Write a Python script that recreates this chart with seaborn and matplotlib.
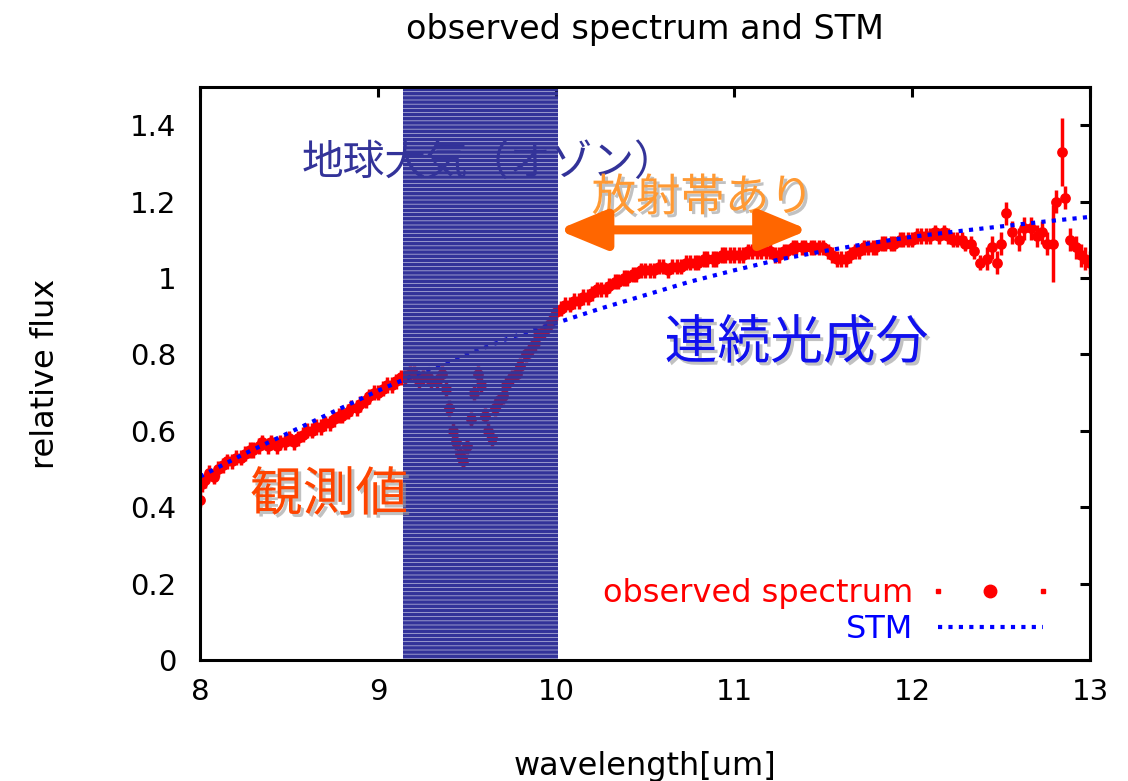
import matplotlib
matplotlib.use("Agg")
import matplotlib.pyplot as plt
import matplotlib.patheffects as pe
from matplotlib.lines import Line2D
from matplotlib.legend_handler import HandlerLine2D, HandlerTuple
import seaborn as sns
import pandas as pd

# ---------------- data ----------------
obs_x = [8.00, 8.01, 8.03, 8.05, 8.08, 8.10, 8.13, 8.15, 8.18, 8.20,
         8.23, 8.25, 8.28, 8.30, 8.33, 8.35, 8.38, 8.40, 8.43, 8.45,
         8.48, 8.50, 8.53, 8.55, 8.58, 8.60, 8.63, 8.65, 8.68, 8.70,
         8.73, 8.75, 8.78, 8.80, 8.83, 8.85, 8.88, 8.90, 8.93, 8.95,
         8.98, 9.00, 9.03, 9.05, 9.08, 9.10, 9.13, 9.15, 9.18, 9.20,
         9.23, 9.25, 9.28, 9.30, 9.33, 9.36, 9.38, 9.40, 9.42, 9.44,
         9.46, 9.48, 9.50, 9.52, 9.54, 9.56, 9.58, 9.60, 9.62, 9.64,
         9.66, 9.68, 9.70, 9.72, 9.75, 9.78, 9.80, 9.83, 9.85, 9.88,
         9.90, 9.93, 9.95, 9.98, 10.00, 10.03, 10.05, 10.08, 10.10, 10.13,
         10.15, 10.18, 10.20, 10.23, 10.25, 10.28, 10.30, 10.33, 10.35, 10.38,
         10.40, 10.43, 10.45, 10.48, 10.50, 10.53, 10.55, 10.58, 10.60, 10.63,
         10.65, 10.68, 10.70, 10.73, 10.75, 10.78, 10.80, 10.83, 10.85, 10.88,
         10.90, 10.93, 10.95, 10.98, 11.00, 11.03, 11.05, 11.08, 11.10, 11.13,
         11.15, 11.18, 11.20, 11.23, 11.25, 11.28, 11.30, 11.33, 11.35, 11.38,
         11.40, 11.43, 11.45, 11.48, 11.50, 11.53, 11.55, 11.58, 11.60, 11.63,
         11.65, 11.68, 11.70, 11.73, 11.75, 11.78, 11.80, 11.83, 11.85, 11.88,
         11.90, 11.93, 11.95, 11.98, 12.00, 12.03, 12.05, 12.08, 12.10, 12.13,
         12.15, 12.18, 12.20, 12.23, 12.25, 12.28, 12.30, 12.33, 12.35, 12.38,
         12.42, 12.45, 12.48, 12.50, 12.53, 12.56, 12.60, 12.63, 12.67, 12.70,
         12.73, 12.76, 12.79, 12.81, 12.84, 12.86, 12.89, 12.92, 12.95, 12.97,
         13.00]
obs_y = [0.42, 0.46, 0.47, 0.49, 0.48, 0.50, 0.51, 0.52, 0.52, 0.53,
         0.53, 0.54, 0.55, 0.55, 0.56, 0.57, 0.56, 0.57, 0.56, 0.57,
         0.57, 0.58, 0.57, 0.58, 0.59, 0.60, 0.60, 0.61, 0.61, 0.62,
         0.62, 0.63, 0.64, 0.64, 0.65, 0.66, 0.66, 0.67, 0.68, 0.69,
         0.70, 0.70, 0.71, 0.72, 0.72, 0.73, 0.74, 0.74, 0.75, 0.75,
         0.73, 0.74, 0.74, 0.73, 0.73, 0.75, 0.71, 0.66, 0.60, 0.57,
         0.54, 0.52, 0.56, 0.63, 0.70, 0.75, 0.72, 0.64, 0.60, 0.58,
         0.66, 0.68, 0.69, 0.72, 0.74, 0.75, 0.77, 0.80, 0.81, 0.83,
         0.85, 0.86, 0.87, 0.89, 0.91, 0.92, 0.93, 0.93, 0.94, 0.94,
         0.95, 0.95, 0.96, 0.97, 0.97, 0.97, 0.98, 0.99, 0.99, 1.00,
         1.00, 1.01, 1.01, 1.02, 1.02, 1.02, 1.02, 1.03, 1.03, 1.02,
         1.03, 1.03, 1.03, 1.04, 1.04, 1.04, 1.04, 1.05, 1.05, 1.05,
         1.05, 1.06, 1.06, 1.06, 1.06, 1.06, 1.06, 1.07, 1.07, 1.07,
         1.07, 1.07, 1.07, 1.06, 1.06, 1.07, 1.07, 1.08, 1.08, 1.08,
         1.08, 1.08, 1.08, 1.08, 1.08, 1.07, 1.06, 1.05, 1.05, 1.05,
         1.06, 1.07, 1.07, 1.08, 1.08, 1.08, 1.08, 1.09, 1.09, 1.09,
         1.09, 1.10, 1.10, 1.10, 1.10, 1.11, 1.11, 1.11, 1.11, 1.12,
         1.11, 1.12, 1.11, 1.10, 1.10, 1.10, 1.09, 1.09, 1.07, 1.04,
         1.05, 1.08, 1.04, 1.09, 1.17, 1.12, 1.10, 1.13, 1.13, 1.11,
         1.12, 1.09, 1.09, 1.20, 1.33, 1.21, 1.10, 1.08, 1.06, 1.05,
         1.04]
obs_err = [0.02] * 180 + [0.03, 0.03, 0.03, 0.03, 0.03, 0.03, 0.03, 0.03, 0.03, 0.03,
                          0.03, 0.03, 0.10, 0.03, 0.09, 0.03, 0.03, 0.03, 0.03, 0.03,
                          0.03]

stm_x = [8.00, 8.25, 8.50, 8.75, 9.00, 9.25, 9.50, 9.75, 10.00, 10.25,
         10.50, 10.75, 11.00, 11.25, 11.50, 11.75, 12.00, 12.25, 12.50, 12.75, 13.00]
stm_y = [0.48, 0.54, 0.595, 0.65, 0.705, 0.755, 0.80, 0.845, 0.882, 0.92,
         0.955, 0.99, 1.02, 1.048, 1.07, 1.09, 1.108, 1.122, 1.135, 1.148, 1.16]

x_ticks = [8, 9, 10, 11, 12, 13]
y_ticks = [0, 0.2, 0.4, 0.6, 0.8, 1.0, 1.2, 1.4]
y_tick_labels = ["0", "0.2", "0.4", "0.6", "0.8", "1", "1.2", "1.4"]

band = (9.14, 10.01)

title = "observed spectrum and STM"
xlabel = "wavelength[um]"
ylabel = "relative flux"
label_obs = "observed spectrum"
label_stm = "STM"

# ---------------- style ----------------
sns.set_theme(style="white")
plt.rcParams["font.family"] = ["DejaVu Sans", "Noto Sans CJK JP"]
plt.rcParams["hatch.linewidth"] = 2.5
plt.rcParams["text.color"] = "black"
plt.rcParams["axes.labelcolor"] = "black"
CJK = ["Noto Sans CJK JP", "DejaVu Sans"]

fig = plt.figure(figsize=(11.28, 7.81), dpi=100)
ax = fig.add_axes([200 / 1128, 1 - 660 / 781, 890 / 1128, 573 / 781])

obs_df = pd.DataFrame({"x": obs_x, "y": obs_y, "err": obs_err})
stm_df = pd.DataFrame({"x": stm_x, "y": stm_y})

ax.errorbar(obs_df["x"], obs_df["y"], yerr=obs_df["err"], fmt="none",
            ecolor="#ff0000", elinewidth=2.5, capsize=0, zorder=2)
sns.scatterplot(data=obs_df, x="x", y="y", ax=ax, color="#ff0000", s=60,
                marker="o", linewidth=0, zorder=3, legend=False)
sns.lineplot(data=stm_df, x="x", y="y", ax=ax, color="#0000ff", lw=3.0,
             linestyle=(0, (1, 1.5)), zorder=4, legend=False)

# ozone band (horizontal-line fill, gaps let the data show through)
ax.axvspan(band[0], band[1], facecolor=(0.2, 0.2, 0.6, 0.3), edgecolor="#333399",
           hatch="----", linewidth=0, zorder=5)

ax.set_xlim(8, 13)
ax.set_ylim(0, 1.5)
ax.set_xticks(x_ticks)
ax.set_xticklabels([str(t) for t in x_ticks])
ax.set_yticks(y_ticks)
ax.set_yticklabels(y_tick_labels)
ax.tick_params(direction="in", length=7, width=2.2, top=True, right=True,
               labelsize=21, colors="black")
ax.tick_params(axis="y", pad=17)
ax.tick_params(axis="x", pad=13)
for sp in ax.spines.values():
    sp.set_linewidth(2.2)
    sp.set_color("black")
    sp.set_zorder(10)

ax.set_xlabel(xlabel, fontsize=23, va="center")
ax.xaxis.set_label_coords(0.5, -0.185)
ax.set_ylabel(ylabel, fontsize=23, va="center")
ax.yaxis.set_label_coords(-0.174, 0.5)
fig.text(645 / 1128, 1 - 30 / 781, title, ha="center", va="center", fontsize=24)

# annotations
shadow = [pe.SimplePatchShadow(offset=(2.2, -2.2), shadow_rgbFace="#999999", alpha=0.6), pe.Normal()]
ax.text(8.57, 1.30, "地球大気（オゾン）", family=CJK, fontsize=30, color="#333399",
        ha="left", va="center", zorder=4.5)
ax.text(10.20, 1.21, "放射帯あり", family=CJK, fontsize=32, color="#ff9933",
        ha="left", va="center", zorder=7, path_effects=shadow)
ax.text(10.61, 0.83, "連続光成分", family=CJK, fontsize=38, color="#1010ee",
        ha="left", va="center", zorder=7, path_effects=shadow)
ax.text(8.28, 0.432, "観測値", family=CJK, fontsize=38, color="#ff4400",
        ha="left", va="center", zorder=7, path_effects=shadow)
ax.annotate("", xy=(band[1], 1.126), xytext=(11.42, 1.126),
            arrowprops=dict(arrowstyle="<|-|>,head_length=1.45,head_width=0.6",
                            mutation_scale=20, lw=6.5, color="#ff6600",
                            shrinkA=0, shrinkB=0),
            zorder=8)

# legend
big = Line2D([], [], marker="o", ms=9, ls="none", color="#ff0000")
small = Line2D([], [], marker="s", ms=2.2, ls="none", color="#ff0000")
stm_h = Line2D([], [], color="#0000ff", lw=3.0, linestyle=(0, (1, 1.5)))
leg = ax.legend(handles=[(big, small), stm_h], labels=[label_obs, label_stm],
                handler_map={tuple: HandlerTuple(ndivide=1), small: HandlerLine2D(numpoints=2, marker_pad=0.0),
                             big: HandlerLine2D(numpoints=1)},
                loc="lower right", bbox_to_anchor=(1043 / 1128, (781 - 645) / 781),
                bbox_transform=fig.transFigure, frameon=False, fontsize=23,
                markerfirst=False, handlelength=3.3, handletextpad=0.75,
                labelspacing=0.15, borderpad=0, borderaxespad=0,
                labelcolor=["#ff0000", "#0000ff"])
leg.set_zorder(9)

fig.savefig("out.png", dpi=100)
